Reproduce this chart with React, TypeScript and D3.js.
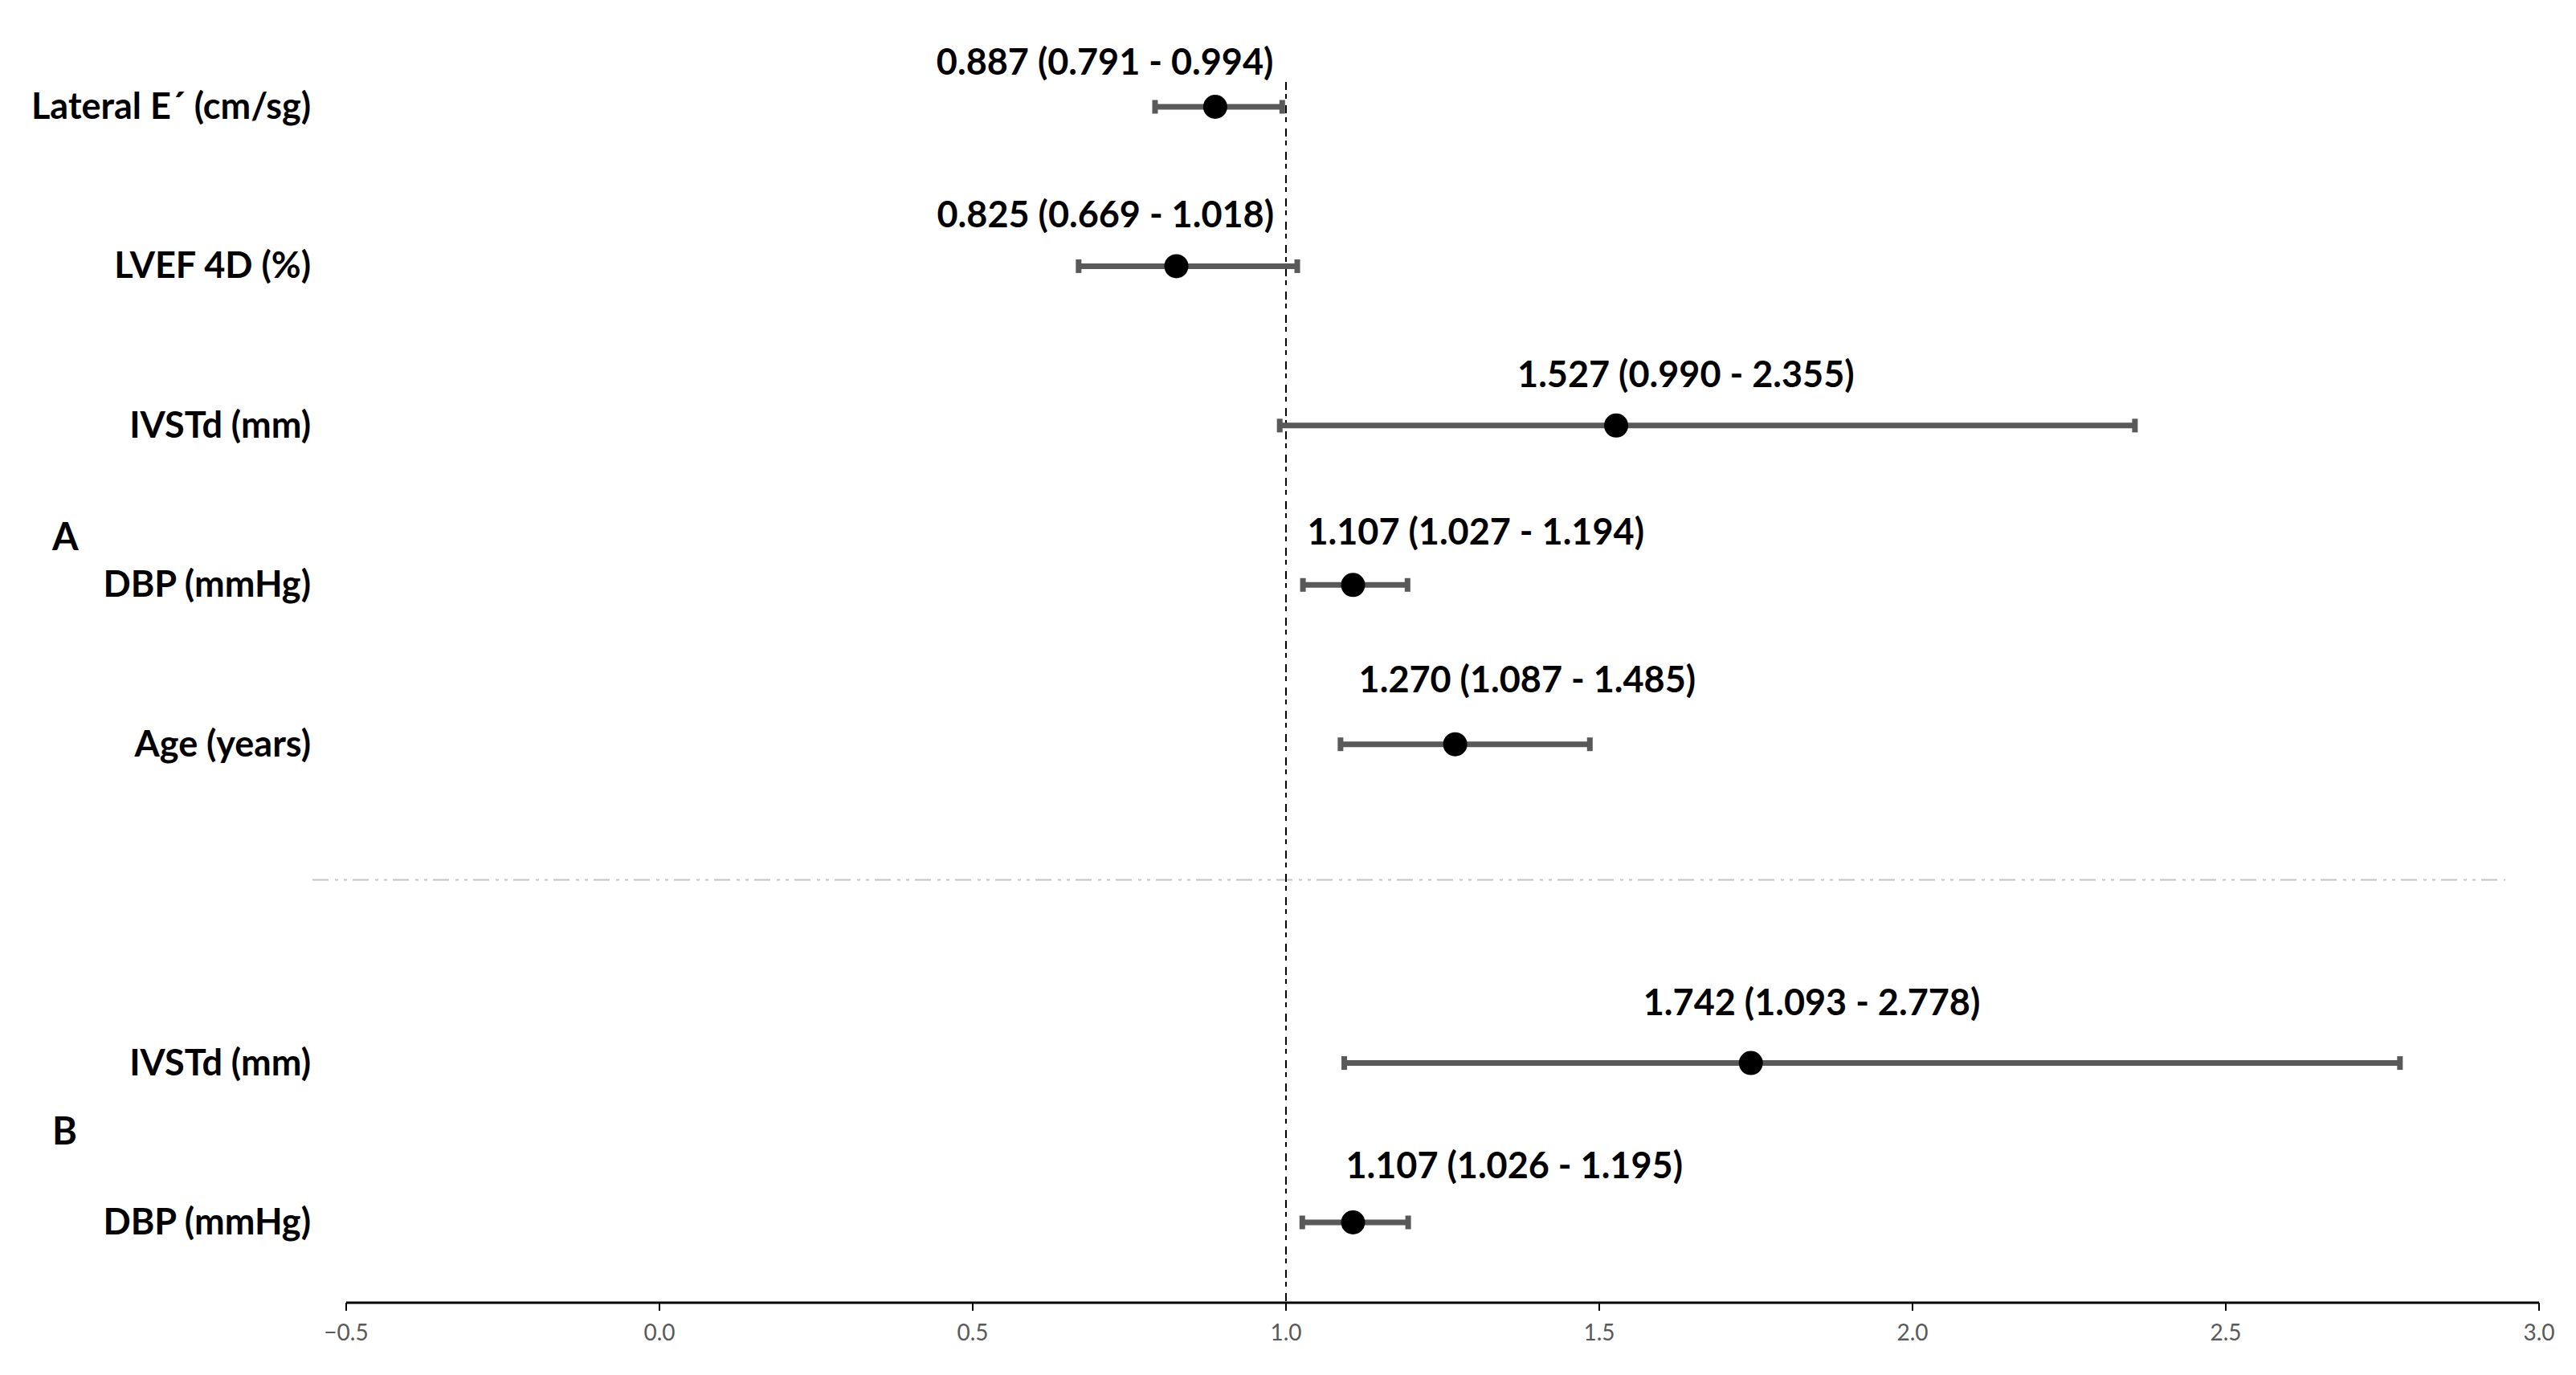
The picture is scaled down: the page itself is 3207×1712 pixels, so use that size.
import React from "react";
import * as d3 from "d3";

const WIDTH = 3207;
const HEIGHT = 1712;

// rows, top to bottom (A: five variables, B: two)
const variables = ["Lateral E\u00B4 (cm/sg)", "LVEF 4D (%)", "IVSTd (mm)", "DBP (mmHg)", "Age (years)", "IVSTd (mm)", "DBP (mmHg)"];
const groups = ["A", "A", "A", "A", "A", "B", "B"];
const oddsRatio = [0.887, 0.825, 1.527, 1.107, 1.27, 1.742, 1.107];
const ciLower = [0.791, 0.669, 0.99, 1.027, 1.087, 1.093, 1.026];
const ciUpper = [0.994, 1.018, 2.355, 1.194, 1.485, 2.778, 1.195];
const xTicks = [-0.5, 0, 0.5, 1, 1.5, 2, 2.5, 3];

// layout: row slot (slot 5 left empty for the separator), label nudges
const SLOT = [0, 1, 2, 3, 4, 6, 7];
const LABEL_DX = [-347, -298, -123, -57, -120, -134, -9];
const LABEL_DY = [-40, -48, -48, -50, -65, -60, -55];
const GROUP_SLOT = { A: 2.7, B: 6.43 };

const FONT = "Lato, 'Open Sans', sans-serif";
const GREY = "#595959";

export default function App() {
  const x = d3.scaleLinear().domain([-0.5, 3]).range([431, 3161]);
  const y = d3.scaleLinear().domain([0, 7]).range([133, 1522]);
  const axisY = 1622;
  const fmt = d3.format(".3f");
  const tickFmt = d3.format(".1f");

  const rows = variables.map((v, i) => ({
    name: v,
    group: groups[i],
    or: oddsRatio[i],
    lo: ciLower[i],
    hi: ciUpper[i],
    slot: SLOT[i],
    dx: LABEL_DX[i],
    dy: LABEL_DY[i],
  }));

  const sepY = y(4.85);

  return (
    <svg
      width={WIDTH}
      height={HEIGHT}
      style={{ position: "absolute", left: 0, top: 0, background: "#fff" }}
      fontFamily={FONT}
    >
      {/* separator between model A and B */}
      <line
        x1={389}
        x2={3119}
        y1={sepY}
        y2={sepY}
        stroke="#c4c4c4"
        strokeWidth={2}
        strokeDasharray="20,8,4,7,4,7"
      />

      {/* reference line at OR = 1 */}
      <line
        x1={x(1)}
        x2={x(1)}
        y1={102}
        y2={axisY}
        stroke="#000"
        strokeWidth={2}
        strokeDasharray="10,5,6,8"
      />

      {/* x axis */}
      <line x1={x(-0.5)} x2={x(3)} y1={axisY} y2={axisY} stroke="#000" strokeWidth={3} />
      {xTicks.map((t) => (
        <g key={t}>
          <line x1={x(t)} x2={x(t)} y1={axisY} y2={axisY + 10} stroke="#000" strokeWidth={2} />
          <text
            x={x(t)}
            y={1669}
            textAnchor="middle"
            fontSize={28}
            fill={GREY}
          >
            {tickFmt(t)}
          </text>
        </g>
      ))}

      {/* group letters */}
      {Object.entries(GROUP_SLOT).map(([g, s]) => (
        <text key={g} x={65} y={y(s) + 16} fontSize={47} fontWeight="bold" fill="#000">
          {g}
        </text>
      ))}

      {rows.map((d, i) => {
        const cy = y(d.slot);
        const cx = x(d.or);
        return (
          <g key={i}>
            <text x={387} y={cy + 15} textAnchor="end" fontSize={45} fontWeight="bold" fill="#000">
              {d.name}
            </text>
            <line x1={x(d.lo)} x2={x(d.hi)} y1={cy} y2={cy} stroke={GREY} strokeWidth={7} />
            <line x1={x(d.lo)} x2={x(d.lo)} y1={cy - 8.5} y2={cy + 8.5} stroke={GREY} strokeWidth={7} />
            <line x1={x(d.hi)} x2={x(d.hi)} y1={cy - 8.5} y2={cy + 8.5} stroke={GREY} strokeWidth={7} />
            <circle cx={cx} cy={cy} r={15} fill="#000" />
            <text x={cx + d.dx} y={cy + d.dy} fontSize={45} fontWeight="bold" fill="#000">
              {`${fmt(d.or)} (${fmt(d.lo)} - ${fmt(d.hi)})`}
            </text>
          </g>
        );
      })}
    </svg>
  );
}
